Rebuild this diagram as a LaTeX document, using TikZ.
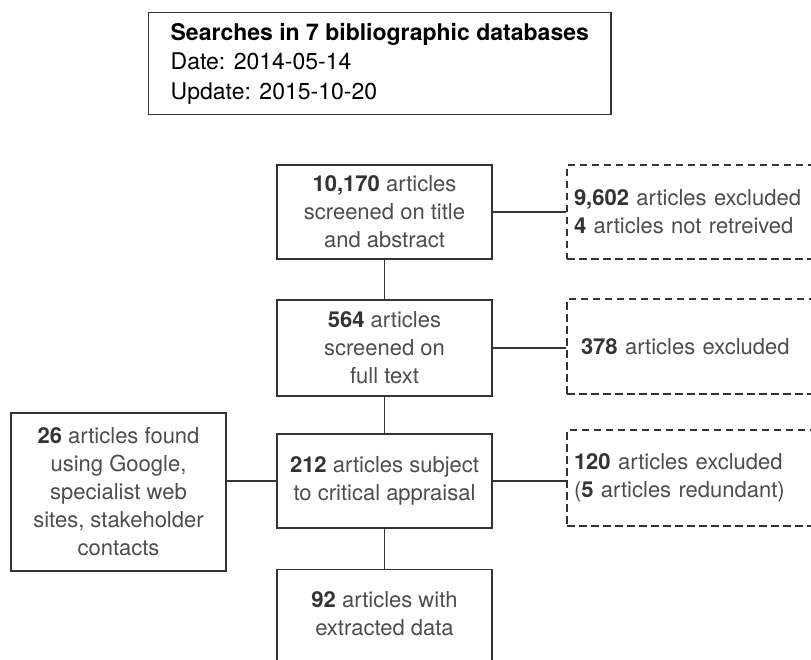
\documentclass[tikz,border=0pt]{standalone}
\usepackage{fontspec}
\setmainfont{TeX Gyre Heros}
\definecolor{linec}{HTML}{333333}
\definecolor{txt}{HTML}{4D4D4D}
\definecolor{numc}{HTML}{333333}
\newcommand{\mainfnt}{\fontsize{22}{28}\selectfont}
\newcommand{\topfnt}{\fontsize{23}{29.5}\selectfont}
\newcommand{\num}[1]{\textbf{\color{numc}#1}}
\begin{document}
\begin{tikzpicture}[x=1pt,y=-1pt,
  box/.style={draw=linec, line width=1.3pt, fill=white, minimum width=215pt, align=center, font=\mainfnt, text=txt, inner sep=0pt},
  dbox/.style={draw=linec, line width=1.3pt, dash pattern=on 7.5pt off 4.5pt, minimum width=263pt, text width=249pt, inner xsep=7pt, inner ysep=0pt, align=left, font=\mainfnt, text=txt},
  link/.style={draw=linec, line width=1.3pt}]
\clip (0,0) rectangle (811,660);
\fill[white] (0,0) rectangle (811,660);
% top box
\node[draw=linec, line width=1.3pt, anchor=north west, minimum height=102pt, inner xsep=22pt, inner ysep=0pt, align=left, font=\topfnt, text=black] (top) at (148,12)
  {\textbf{Searches in 7 bibliographic databases}\\Date: 2014-05-14\\Update: 2015-10-20};
% main column
\node[box, minimum height=94pt] (b1) at (384.5,212) {\num{10,170} articles\\screened on title\\and abstract};
\node[box, minimum height=96pt] (b2) at (384.5,348) {\num{564} articles\\screened on\\full text};
\node[box, minimum height=94pt] (b3) at (384.5,481) {\num{212} articles subject\\to critical appraisal};
\node[box, minimum height=130pt, anchor=north] (b4) at (384.5,569) {};
\node[align=center, font=\mainfnt, text=txt, inner sep=0pt] (b4t) at (384.5,614) {\num{92} articles with\\extracted data};
% left box
\node[box, minimum height=158pt] (lb) at (118.5,492) {\num{26} articles found\\using Google,\\specialist web\\sites, stakeholder\\contacts};
% dashed boxes
\node[dbox, minimum height=94pt] (d1) at (698.5,212) {\num{9,602} articles excluded\\\num{4} articles not retreived};
\node[dbox, minimum height=95pt] (d2) at (698.5,346.5) {\hspace*{7pt}\num{378} articles excluded};
\node[dbox, minimum height=96pt] (d3) at (698.5,478) {\num{120} articles excluded\\(\num{5} articles redundant)};
% connectors
\draw[link] (b1.south) -- (b2.north);
\draw[link] (b2.south) -- (b3.north);
\draw[link] (b3.south) -- (b4.north);
\draw[link] (b1.east) -- (b1.east -| d1.west);
\draw[link] (b2.east) -- (b2.east -| d2.west);
\draw[link] (b3.east) -- (b3.east -| d3.west);
\draw[link] (lb.east |- b3.west) -- (b3.west);
\end{tikzpicture}
\end{document}
